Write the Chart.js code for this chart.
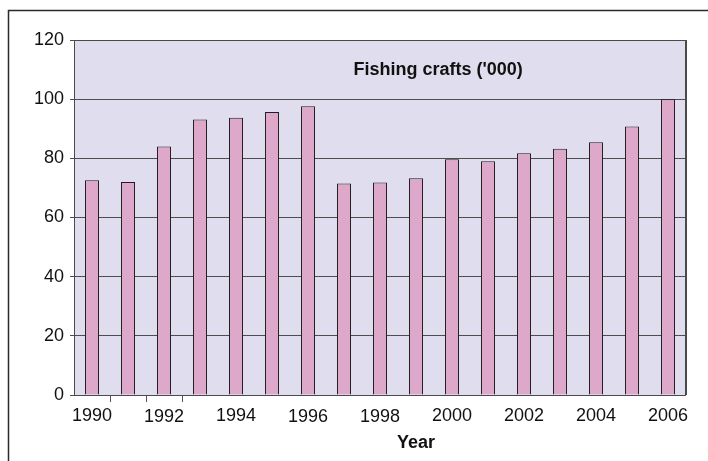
<!DOCTYPE html>
<html>
<head>
<meta charset="utf-8">
<script src="https://cdn.jsdelivr.net/npm/chart.js@4.4.1/dist/chart.umd.min.js"></script>
<style>
  html, body { margin: 0; padding: 0; background: #fff; }
  #wrap { width: 708px; height: 461px; position: relative; }
</style>
</head>
<body>
<div id="wrap"><canvas id="fishing-chart"></canvas></div>
<script>
const years = [
  "1990", "1991", "1992", "1993", "1994", "1995", "1996", "1997", "1998",
  "1999", "2000", "2001", "2002", "2003", "2004", "2005", "2006",
];
// fishing crafts, thousands
const crafts = [
  72.6, 72.0, 84.0, 93.1, 93.7, 95.7, 97.6, 71.5, 71.8,
  73.3, 79.7, 79.0, 81.7, 83.2, 85.4, 90.8, 100.0,
];
const shownYears = ["1990", "1992", "1994", "1996", "1998", "2000", "2002", "2004", "2006"];
const yMin = 0;
const yMax = 120;
const yStep = 20;
const chartTitle = "Fishing crafts ('000)";
const xTitle = "Year";

// labels in the original sit a little lower for some years
const labelLineHeight = { "1992": 1.39, "1996": 1.31, "1998": 1.36, "2004": 1.26, "2006": 1.26 };

const FONT = "'Liberation Sans', Arial, sans-serif";

const frame = {
  id: "frame",
  beforeDraw(chart) {
    const { ctx, chartArea: a } = chart;
    ctx.save();
    ctx.fillStyle = "#fff";
    ctx.fillRect(0, 0, chart.width, chart.height);
    ctx.strokeStyle = "#2a2a2a";
    ctx.lineWidth = 1.5;
    ctx.beginPath();
    ctx.moveTo(8.5, chart.height);
    ctx.lineTo(8.5, 10.5);
    ctx.lineTo(chart.width, 10.5);
    ctx.stroke();
    ctx.fillStyle = "#e0ddee";
    ctx.fillRect(a.left, a.top, a.width, a.height);
    ctx.restore();
  },
  afterDatasetsDraw(chart) {
    const { ctx, chartArea: a } = chart;
    ctx.save();
    ctx.strokeStyle = "#4a4a4a";
    ctx.lineWidth = 1;
    ctx.strokeRect(a.left + 0.5, a.top + 0.5, a.width - 1, a.height);
    ctx.lineWidth = 2;
    ctx.beginPath();
    ctx.moveTo(a.right, a.top);
    ctx.lineTo(a.right, a.bottom);
    ctx.stroke();

    ctx.fillStyle = "#111";
    ctx.font = "bold 18px " + FONT;
    ctx.textAlign = "center";
    ctx.textBaseline = "middle";
    ctx.fillText(chartTitle, a.left + a.width * 0.595, a.top + 30);
    ctx.fillText(xTitle, a.left + a.width * 0.559, a.bottom + 48);
    ctx.restore();
  },
};

const ctx = document.getElementById("fishing-chart").getContext("2d");
new Chart(ctx, {
  type: "bar",
  data: {
    labels: years,
    datasets: [
      {
        label: chartTitle,
        data: crafts,
        backgroundColor: "#dea8cb",
        borderColor: "#1e1e1e",
        borderWidth: 1,
        categoryPercentage: 1,
        barPercentage: 0.39,
      },
    ],
  },
  options: {
    responsive: true,
    maintainAspectRatio: false,
    animation: false,
    layout: { padding: { top: 40, right: 22, left: 0, bottom: 0 } },
    plugins: {
      legend: { display: false },
      tooltip: { enabled: false },
    },
    scales: {
      x: {
        afterFit: (scale) => { scale.height = 66; },
        border: { display: false },
        grid: {
          offset: true,
          drawOnChartArea: false,
          tickLength: 7,
          tickColor: (c) => ([1, 2, 3].includes(c.index) ? "#555" : "transparent"),
        },
        ticks: {
          autoSkip: false,
          maxRotation: 0,
          padding: 3,
          color: "#111",
          callback: function (value) {
            const lab = this.getLabelForValue(value);
            return shownYears.includes(lab) ? lab : "";
          },
          font: (c) => {
            const lab = years[c.index];
            return { family: FONT, size: 18, lineHeight: labelLineHeight[lab] || 1.2 };
          },
        },
      },
      y: {
        min: yMin,
        max: yMax,
        afterFit: (scale) => { scale.width = 74; },
        border: { display: false },
        grid: { color: "#4d4d4d", lineWidth: 1, tickLength: 4 },
        ticks: {
          stepSize: yStep,
          padding: 6,
          color: "#111",
          font: { family: FONT, size: 18 },
        },
      },
    },
  },
  plugins: [frame],
});
</script>
</body>
</html>
